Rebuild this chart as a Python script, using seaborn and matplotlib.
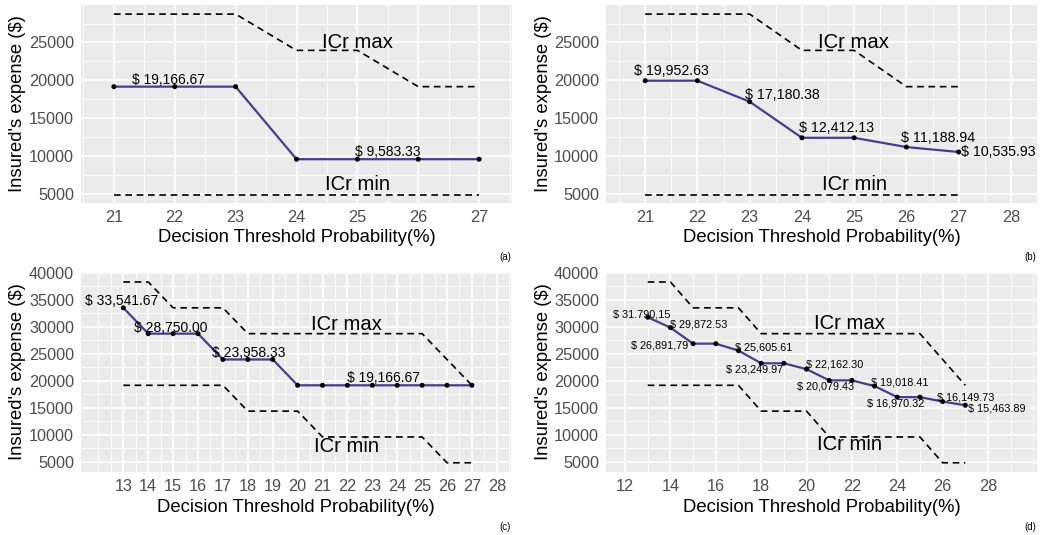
import matplotlib
matplotlib.use("Agg")
import matplotlib.pyplot as plt
import seaborn as sns
import pandas as pd

# ---------------- data ----------------
# panel (a)
a_x = [21, 22, 23, 24, 25, 26, 27]
a_y = [19166.67, 19166.67, 19166.67, 9583.33, 9583.33, 9583.33, 9583.33]
a_max = [28750, 28750, 28750, 23958.33, 23958.33, 19166.67, 19166.67]
a_min = [4791.67, 4791.67, 4791.67, 4791.67, 4791.67, 4791.67, 4791.67]
a_labels = ["$ 19,166.67", "$ 9,583.33"]

# panel (b)
b_x = [21, 22, 23, 24, 25, 26, 27]
b_y = [19952.63, 19952.63, 17180.38, 12412.13, 12412.13, 11188.94, 10535.93]
b_max = [28750, 28750, 28750, 23958.33, 23958.33, 19166.67, 19166.67]
b_min = [4791.67, 4791.67, 4791.67, 4791.67, 4791.67, 4791.67, 4791.67]
b_labels = ["$ 19,952.63", "$ 17,180.38", "$ 12,412.13", "$ 11,188.94", "$ 10,535.93"]

# panel (c)
c_x = [13, 14, 15, 16, 17, 18, 19, 20, 21, 22, 23, 24, 25, 26, 27]
c_y = [33541.67, 28750, 28750, 28750, 23958.33, 23958.33, 23958.33, 19166.67,
       19166.67, 19166.67, 19166.67, 19166.67, 19166.67, 19166.67, 19166.67]
c_max = [38333.33, 38333.33, 33541.67, 33541.67, 33541.67, 28750, 28750, 28750,
         28750, 28750, 28750, 28750, 28750, 23958.33, 19166.67]
c_min = [19166.67, 19166.67, 19166.67, 19166.67, 19166.67, 14375, 14375, 14375,
         9583.33, 9583.33, 9583.33, 9583.33, 9583.33, 4791.67, 4791.67]
c_labels = ["$ 33,541.67", "$ 28,750.00", "$ 23,958.33", "$ 19,166.67"]

# panel (d)
d_x = [13, 14, 15, 16, 17, 18, 19, 20, 21, 22, 23, 24, 25, 26, 27]
d_y = [31790.15, 29872.53, 26891.79, 26891.79, 25605.61, 23249.97, 23249.97, 22162.30,
       20079.43, 20079.43, 19018.41, 16970.32, 16970.32, 16149.73, 15463.89]
d_max = [38333.33, 38333.33, 33541.67, 33541.67, 33541.67, 28750, 28750, 28750,
         28750, 28750, 28750, 28750, 28750, 23958.33, 19166.67]
d_min = [19166.67, 19166.67, 19166.67, 19166.67, 19166.67, 14375, 14375, 14375,
         9583.33, 9583.33, 9583.33, 9583.33, 9583.33, 4791.67, 4791.67]
d_labels = ["$ 31.790,15", "$ 29,872.53", "$ 26,891,79", "$ 25,605.61", "$ 23,249.97",
            "$ 22,162.30", "$ 20,079.43", "$ 19,018.41", "$ 16,970.32", "$ 16,149.73",
            "$ 15,463.89"]

x_title = "Decision Threshold Probability(%)"
y_title = "Insured's expense ($)"
band_labels = ["ICr max", "ICr min"]
tags = ["(a)", "(b)", "(c)", "(d)"]

# ---------------- layout (placement only) ----------------
a_lab_pos = [(21.9, 20100), (25.5, 10600)]
b_lab_pos = [(21.5, 21190), (23.62, 18110), (24.67, 13640), (26.6, 12450), (27.75, 10470)]
c_lab_pos = [(12.94, 34850), (14.9, 29780), (18.02, 25135), (23.45, 20490)]
d_lab_pos = [(12.74, 32382), (15.23, 30524), (13.54, 26548), (18.12, 26251), (17.72, 22033),
             (21.22, 22962), (20.85, 18930), (24.11, 19748), (23.93, 15846), (27.02, 16887),
             (28.37, 14917)]

sns.set_theme(style="darkgrid")
plt.rcParams["font.family"] = ["Liberation Sans", "DejaVu Sans"]

W, H = 1053, 535
fig = plt.figure(figsize=(W / 100, H / 100), dpi=100)


def add_ax(l, t, r, b):
    return fig.add_axes([l / W, 1 - b / H, (r - l) / W, (b - t) / H])


def panel(rect, x, y, ymax, ymin, labels, lab_pos, lab_fs, xlim, ylim,
          xmajor, xminor, ymajor, yminor, band_pos, tag_px):
    ax = add_ax(*rect)
    ax.set_facecolor("#EBEBEB")
    for s in ax.spines.values():
        s.set_visible(False)
    df = pd.DataFrame({"x": x, "y": y, "ymax": ymax, "ymin": ymin})
    dash = (0, (4, 2.8))
    sns.lineplot(data=df, x="x", y="ymax", ax=ax, color="black", lw=1.2,
                 linestyle=dash, errorbar=None)
    sns.lineplot(data=df, x="x", y="ymin", ax=ax, color="black", lw=1.2,
                 linestyle=dash, errorbar=None)
    sns.lineplot(data=df, x="x", y="y", ax=ax, color="darkslateblue", lw=1.6,
                 errorbar=None)
    sns.scatterplot(data=df, x="x", y="y", ax=ax, color="black", s=13,
                    edgecolor="none", zorder=5)
    for s, (px, py) in zip(labels, lab_pos):
        ax.text(px, py, s, ha="center", va="center", fontsize=lab_fs, color="black", zorder=6)
    for s, (px, py) in zip(band_labels, band_pos):
        ax.text(px, py, s, ha="center", va="center", fontsize=14.6, color="black", zorder=6)
    ax.set_xlim(*xlim)
    ax.set_ylim(*ylim)
    ax.set_xticks(xmajor)
    ax.set_xticklabels([str(v) for v in xmajor])
    ax.set_xticks(xminor, minor=True)
    ax.set_yticks(ymajor)
    ax.set_yticklabels([str(v) for v in ymajor])
    ax.set_yticks(yminor, minor=True)
    ax.grid(which="major", color="white", lw=1.1)
    ax.grid(which="minor", color="white", lw=0.55)
    ax.set_axisbelow(True)
    ax.tick_params(which="major", length=3, width=0.8, color="#333333",
                   labelsize=11.7, labelcolor="#4D4D4D", pad=2)
    ax.tick_params(which="minor", length=0)
    l, t, r, b = rect
    ax.set_xlabel(x_title, fontsize=13.3, color="black", va="center")
    ax.xaxis.set_label_coords(0.5, -35 / (b - t))
    ax.set_ylabel(y_title, fontsize=13.3, color="black", va="center")
    ax.yaxis.set_label_coords(-63 / (r - l), 0.5)
    fig.text(tag_px[1] / W, 1 - tag_px[2] / H, tag_px[0], fontsize=7,
             ha="center", va="center", color="black")
    return ax


def halves(lo, hi):
    out = []
    v = lo
    while v <= hi + 1e-9:
        out.append(v)
        v += 0.5
    return out


y_top_major = [5000, 10000, 15000, 20000, 25000]
y_top_minor = [7500, 12500, 17500, 22500, 27500]
y_bot_major = [5000, 10000, 15000, 20000, 25000, 30000, 35000, 40000]
y_bot_minor = [7500, 12500, 17500, 22500, 27500, 32500, 37500]

panel((81, 5, 512, 203), a_x, a_y, a_max, a_min, a_labels, a_lab_pos, 10,
      (20.46, 27.54), (3800, 29950),
      [21, 22, 23, 24, 25, 26, 27], [v for v in halves(20.5, 27.5) if v % 1],
      y_top_major, y_top_minor, [(25.0, 25050), (25.0, 6230)], (tags[0], 505, 257))

panel((606, 5, 1037, 203), b_x, b_y, b_max, b_min, b_labels, b_lab_pos, 10.2,
      (20.25, 28.5), (3800, 29950),
      [21, 22, 23, 24, 25, 26, 27, 28], [v for v in halves(20.5, 28.5) if v % 1],
      y_top_major, y_top_minor, [(24.98, 25050), (25.0, 6230)], (tags[1], 1030, 257))

panel((81, 272, 511, 472), c_x, c_y, c_max, c_min, c_labels, c_lab_pos, 10,
      (11.3, 28.57), (3082, 40186),
      list(range(13, 29)), [12] + [v for v in halves(12.5, 28.5) if v % 1],
      y_bot_major, y_bot_minor, [(21.98, 30390), (21.98, 7780)], (tags[2], 505, 527))

panel((606, 272, 1037, 472), d_x, d_y, d_max, d_min, d_labels, d_lab_pos, 7.8,
      (11.16, 30.16), (3082, 40186),
      [12, 14, 16, 18, 20, 22, 24, 26, 28], [13, 15, 17, 19, 21, 23, 25, 27, 29, 30],
      y_bot_major, y_bot_minor, [(21.91, 30580), (21.91, 8100)], (tags[3], 1030, 527))

fig.savefig("out.png", dpi=100, facecolor="white")
